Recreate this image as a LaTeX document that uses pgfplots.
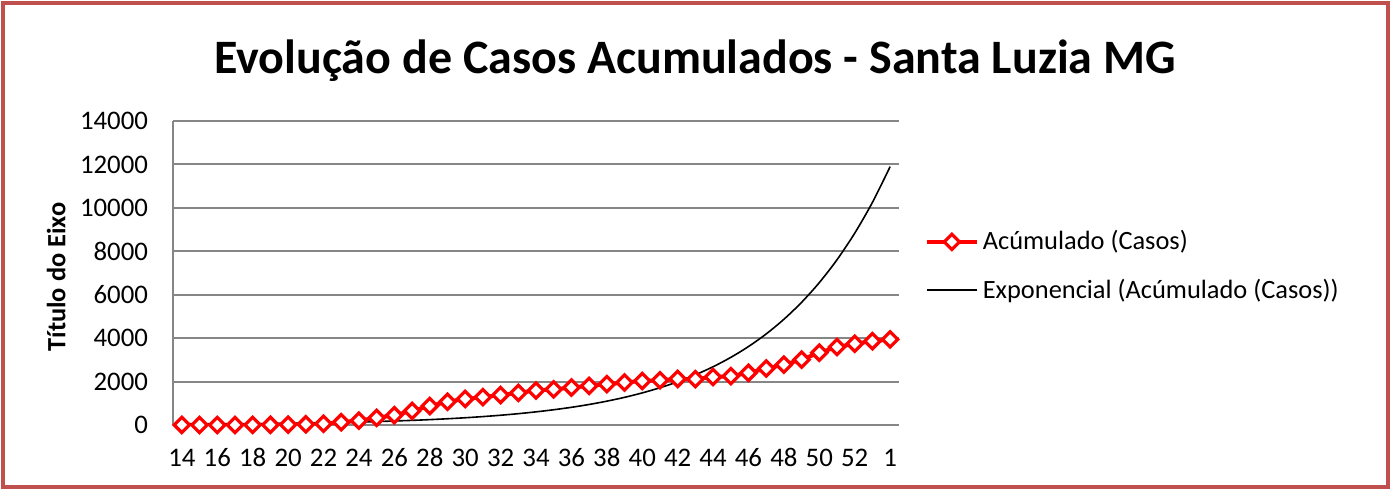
\documentclass[border=0pt]{standalone}
\usepackage{pgfplots}
\pgfplotsset{compat=1.18}
\usepackage{fontspec}
\setmainfont{Carlito}
\definecolor{framec}{RGB}{192,80,77}
\definecolor{gridc}{RGB}{134,134,134}
\begin{document}
\begin{tikzpicture}
\useasboundingbox (0pt,0pt) rectangle (695.5pt,245pt);
\draw[framec, line width=1.6pt] (1.5pt,1.5pt) rectangle (694pt,243.5pt);
\node[font=\bfseries\fontsize{24}{29}\selectfont, anchor=base] at (347.5pt,208.3pt) {Evolução de Casos Acumulados - Santa Luzia MG};
\begin{axis}[
  at={(86.5pt,32.5pt)}, anchor=south west,
  scale only axis, width=363pt, height=152pt,
  xmin=-0.5, xmax=40.5, ymin=0, ymax=14000,
  axis x line*=bottom, axis y line*=left,
  axis line style={draw=gridc, line width=1pt, -},
  ymajorgrids, grid style={draw=gridc, line width=1pt},
  major tick length=0pt,
  scaled ticks=false,
  xtick={0,2,...,40},
  xticklabels={14,16,18,20,22,24,26,28,30,32,34,36,38,40,42,44,46,48,50,52,1},
  ytick={0,2000,...,14000},
  /pgf/number format/1000 sep={},
  /pgf/number format/assume math mode=true,
  tick label style={font=\fontsize{13.4}{16}\selectfont},
  xticklabel style={yshift=-8pt, text height=9pt, text depth=0pt},
  yticklabel style={xshift=-9pt},
  ylabel={Título do Eixo},
  ylabel style={font=\bfseries\fontsize{13.2}{16}\selectfont, at={(axis description cs:-0.161,0.487)}, anchor=center},
  legend style={at={(1.035,0.523)}, anchor=west, draw=none, fill=none,
    font=\fontsize{13.2}{16}\selectfont, row sep=9pt, inner sep=0pt},
  legend cell align=left,
  legend image code/.code={\draw[mark repeat=2,mark phase=2,#1] plot coordinates {(0pt,0pt)(12.5pt,0pt)(25pt,0pt)};},
]
\addplot[red, line width=2pt, mark=square*, mark size=2.7pt,
  mark options={fill=white, draw=red, line width=1.6pt, rotate=45}] coordinates {
(0,1)(1,1)(2,2)(3,3)(4,5)(5,10)(6,15)(7,30)(8,60)(9,130)(10,200)
(11,330)(12,450)(13,650)(14,870)(15,1070)(16,1200)(17,1280)(18,1380)(19,1480)(20,1590)
(21,1640)(22,1725)(23,1800)(24,1880)(25,1955)(26,2030)(27,2060)(28,2120)(29,2110)(30,2210)
(31,2250)(32,2400)(33,2600)(34,2780)(35,3010)(36,3330)(37,3590)(38,3740)(39,3860)(40,3940)
};
\addlegendentry{Acúmulado (Casos)}
\addplot[black, line width=0.8pt, smooth, no marks] coordinates {
(0,31)(1,36)(2,41)(3,48)(4,56)(5,65)(6,75)(7,87)(8,101)(9,117)(10,136)
(11,158)(12,184)(13,213)(14,247)(15,287)(16,333)(17,387)(18,449)(19,521)(20,605)
(21,702)(22,814)(23,945)(24,1097)(25,1273)(26,1478)(27,1715)(28,1991)(29,2311)(30,2682)
(31,3113)(32,3613)(33,4194)(34,4868)(35,5650)(36,6557)(37,7611)(38,8834)(39,10253)(40,11900)
};
\addlegendentry{Exponencial (Acúmulado (Casos))}
\end{axis}
\end{tikzpicture}
\end{document}
